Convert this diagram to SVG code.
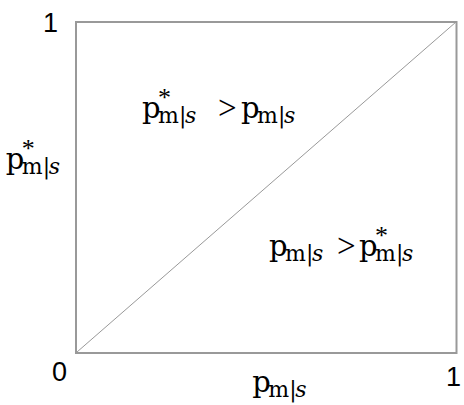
<svg xmlns="http://www.w3.org/2000/svg" width="464" height="405" viewBox="0 0 464 405">
<style>
.num{font-family:"Liberation Sans",Arial,sans-serif;font-size:27px;fill:#000}
.m{font-family:"DejaVu Serif",serif;fill:#000}
.p{font-size:29px}
.sub{font-size:22px}
.it{font-style:italic}
.ast{font-family:"Liberation Serif",serif;font-size:26px}
.gt{font-family:"Liberation Serif",serif;font-size:33px}
</style>
<rect width="464" height="405" fill="#fff"/>
<g id="frame">
<rect x="76" y="22" width="380.5" height="331" fill="none" stroke="#999" stroke-width="2"/>
</g>
<g id="connectors">
<line x1="77" y1="352" x2="456" y2="22" stroke="#999" stroke-width="1"/>
</g>
<g id="axis-labels">
<text class="num" x="43" y="31.5">1</text>
<text class="num" x="52" y="381">0</text>
<text class="num" x="446" y="386">1</text>
</g>
<g id="label-upper">
<text class="m"><tspan class="p" x="142" y="118">p</tspan><tspan class="ast" x="158" y="106">*</tspan><tspan class="sub" x="158" y="122.5">m</tspan><tspan class="sub" x="179" y="122.5">|</tspan><tspan class="sub it" x="185" y="122.5">s</tspan><tspan class="gt" x="218" y="119">&gt;</tspan><tspan class="p" x="241" y="118">p</tspan><tspan class="sub" x="257" y="122.5">m</tspan><tspan class="sub" x="278" y="122.5">|</tspan><tspan class="sub it" x="284" y="122.5">s</tspan></text>
</g>
<g id="label-y">
<text class="m"><tspan class="p" x="5.7" y="169">p</tspan><tspan class="ast" x="21.7" y="157">*</tspan><tspan class="sub" x="21.7" y="173.5">m</tspan><tspan class="sub" x="42.7" y="173.5">|</tspan><tspan class="sub it" x="48.7" y="173.5">s</tspan></text>
</g>
<g id="label-lower">
<text class="m"><tspan class="p" x="269" y="256">p</tspan><tspan class="sub" x="285" y="260.5">m</tspan><tspan class="sub" x="306" y="260.5">|</tspan><tspan class="sub it" x="312" y="260.5">s</tspan><tspan class="gt" x="337" y="257">&gt;</tspan><tspan class="p" x="359" y="256">p</tspan><tspan class="ast" x="375" y="244">*</tspan><tspan class="sub" x="375" y="260.5">m</tspan><tspan class="sub" x="396" y="260.5">|</tspan><tspan class="sub it" x="402" y="260.5">s</tspan></text>
</g>
<g id="label-x">
<text class="m"><tspan class="p" x="252.3" y="392">p</tspan><tspan class="sub" x="268.3" y="396.5">m</tspan><tspan class="sub" x="289.3" y="396.5">|</tspan><tspan class="sub it" x="295.3" y="396.5">s</tspan></text>
</g>
</svg>
